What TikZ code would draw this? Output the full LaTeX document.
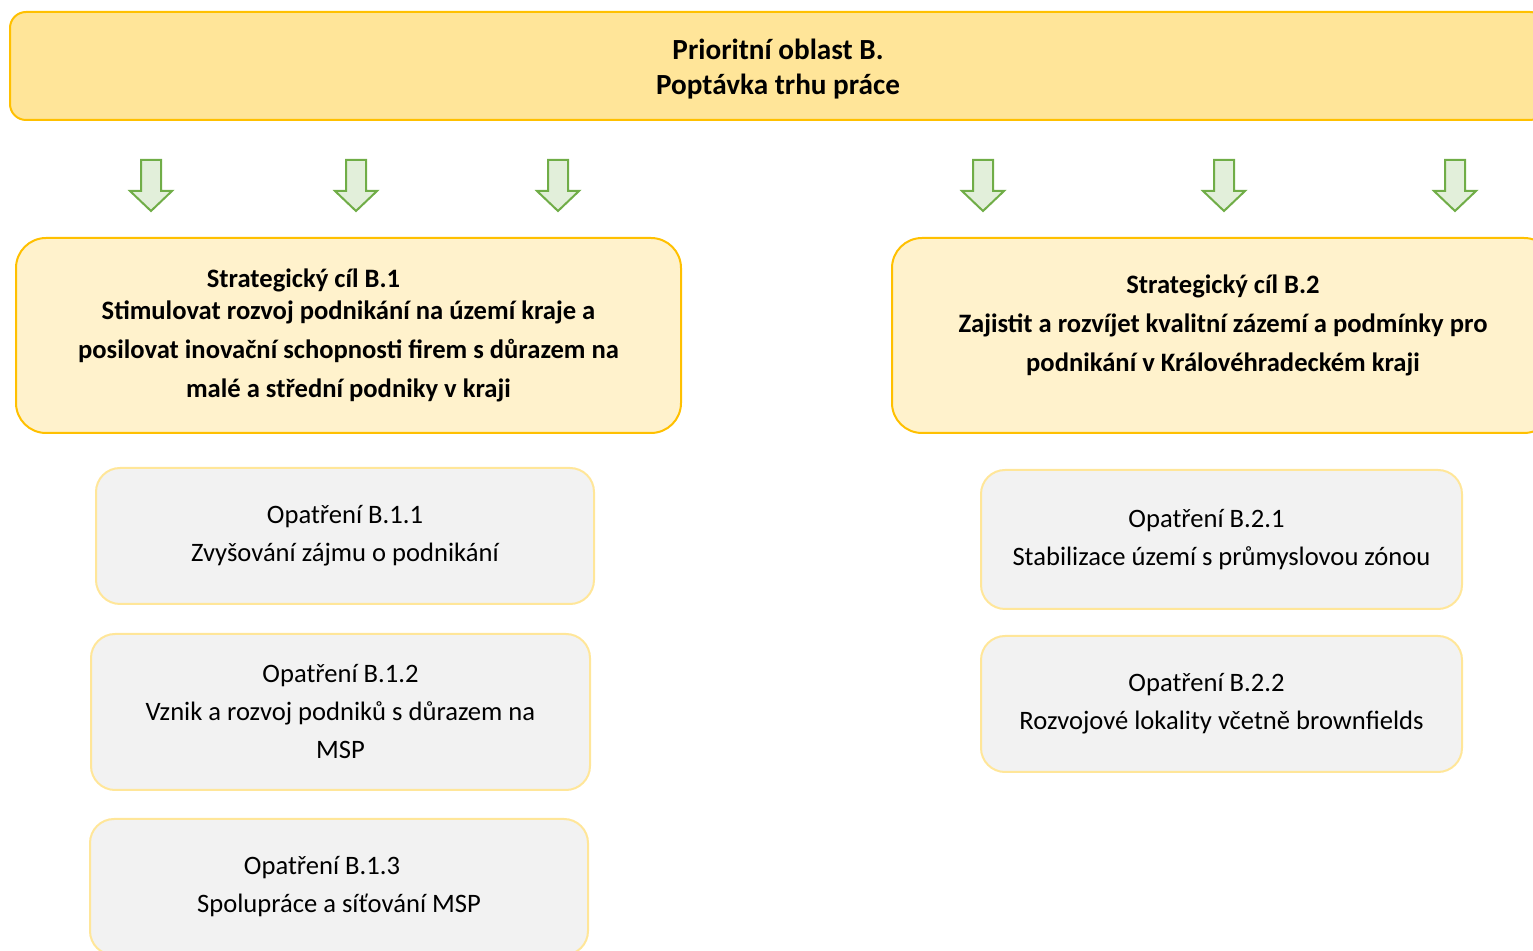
\documentclass[tikz,border=0pt]{standalone}
\usepackage{fontspec}
\setmainfont{Carlito}

\definecolor{headfill}{HTML}{FFE599}
\definecolor{goalfill}{HTML}{FFF2CC}
\definecolor{goldline}{HTML}{FFC000}
\definecolor{measfill}{HTML}{F2F2F2}
\definecolor{measline}{HTML}{FFE699}
\definecolor{arrowfill}{HTML}{E2EFDA}
\definecolor{arrowline}{HTML}{70AD47}

\tikzset{
  headbox/.style={draw=goldline, fill=headfill, line width=1pt, rounded corners=8pt,
    inner sep=0pt, align=center, font=\fontsize{14.6}{17.5}\selectfont\bfseries},
  goalbox/.style={draw=goldline, fill=goalfill, line width=1pt, rounded corners=15pt,
    inner sep=0pt, align=center, font=\fontsize{13.3}{19.5}\selectfont\bfseries},
  measbox/.style={draw=measline, fill=measfill, line width=1pt, rounded corners=12pt,
    inner sep=0pt, align=center, font=\fontsize{13.3}{19}\selectfont},
  downarrow/.style={draw=arrowline, fill=arrowfill, line width=1pt}
}

\begin{document}
\begin{tikzpicture}[x=0.5pt, y=-0.5pt]
    % Page frame (pixel units)
    \clip (0,0) rectangle (1533,951);

    % Priority area
    \node[headbox, minimum width=768pt, minimum height=54pt] (area) at (778,66) {};
    \node[headbox, draw=none, fill=none] (areatext) at ([yshift=-1.5pt]area.center)
        {Prioritní oblast B.\\Poptávka trhu práce};

    % Block arrows
    \foreach \ax in {151,356,558,983,1224,1455}
        \draw[downarrow] (\ax-10,160) -- (\ax+10,160) -- (\ax+10,191) -- (\ax+21,191)
            -- (\ax,211) -- (\ax-21,191) -- (\ax-10,191) -- cycle;

    % Strategic goals
    \node[goalbox, minimum width=332.5pt, minimum height=97.5pt] (goalA) at (348.5,335.5)
        {Strategický cíl B.1\hspace*{45pt}\\[-3.5pt]
         Stimulovat rozvoj podnikání na území kraje a\\
         posilovat inovační schopnosti firem s důrazem na\\
         malé a střední podniky v kraji};
    \node[goalbox, minimum width=331pt, minimum height=97.5pt] (goalB) at (1223,335.5) {};
    \node[goalbox, draw=none, fill=none] (goalBtext) at ([yshift=5pt]goalB.center)
        {Strategický cíl B.2\\
         Zajistit a rozvíjet kvalitní zázemí a podmínky pro\\
         podnikání v Královéhradeckém kraji};

    % Measures B.1
    \node[measbox, minimum width=249pt, minimum height=68pt] (measA1) at (345,536)
        {Opatření B.1.1\\Zvyšování zájmu o podnikání};
    \node[measbox, minimum width=249.5pt, minimum height=78pt] (measA2) at (340.5,712)
        {Opatření B.1.2\\Vznik a rozvoj podniků s důrazem na\\MSP};
    \node[measbox, minimum width=249pt, minimum height=68pt] (measA3) at (339,887)
        {Opatření B.1.3\hspace*{17pt}\\Spolupráce a síťování MSP};

    % Measures B.2
    \node[measbox, minimum width=240.5pt, minimum height=69.5pt] (measB1) at (1221.5,539.5)
        {Opatření B.2.1\hspace*{15pt}\\Stabilizace území s průmyslovou zónou};
    \node[measbox, minimum width=240.5pt, minimum height=68pt] (measB2) at (1221.5,704)
        {Opatření B.2.2\hspace*{15pt}\\Rozvojové lokality včetně brownfields};
\end{tikzpicture}
\end{document}
